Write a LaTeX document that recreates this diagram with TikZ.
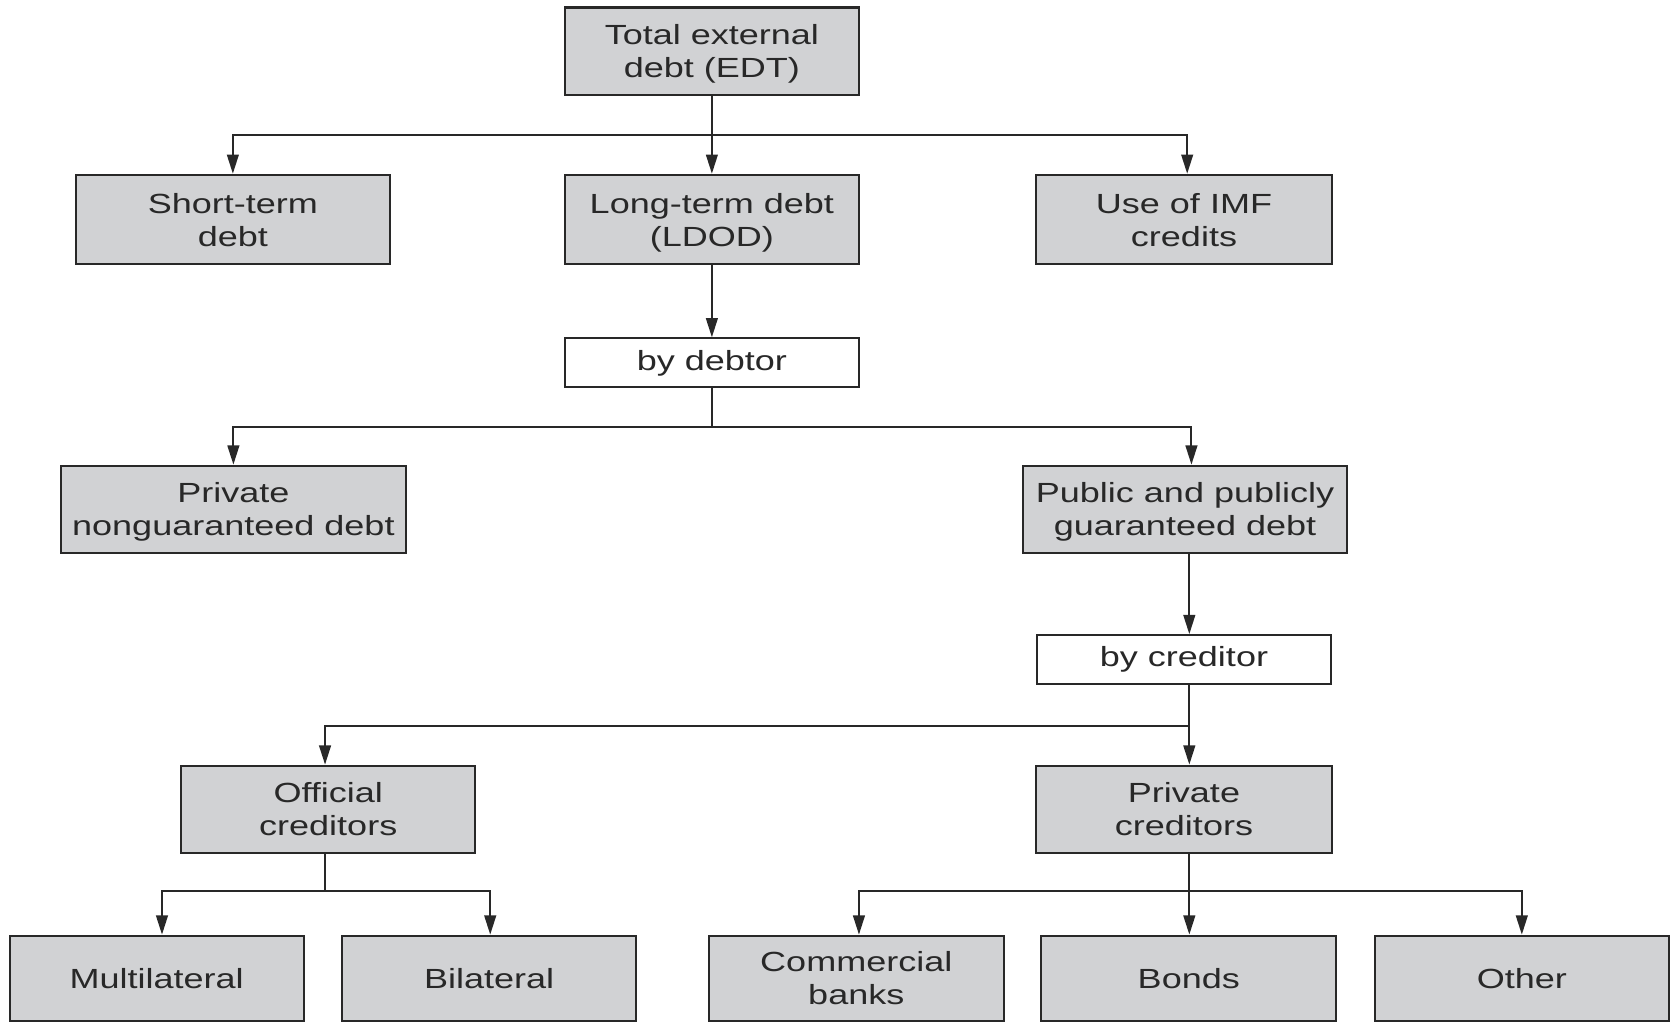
\documentclass[tikz,border=0pt]{standalone}
\usepackage{fontspec}
\setmainfont{Liberation Sans}[FakeStretch=1.3]
\usepackage{xcolor}
\usetikzlibrary{arrows.meta}
\definecolor{boxgray}{RGB}{209,210,212}
\definecolor{linegray}{RGB}{40,40,40}

\begin{document}
\begin{tikzpicture}[x=0.5pt, y=-0.5pt, >={Triangle[length=9pt,width=5.5pt]},
  every node/.style={font=\fontsize{13}{15.5}\selectfont, text=linegray},
  link/.style={draw=linegray, line width=0.9pt},
  catbox/.style={draw=linegray, fill=boxgray, line width=1pt, align=center, inner sep=0pt, minimum height=41pt, text depth=-1.5pt},
  bybox/.style={draw=linegray, fill=white, line width=1pt, align=center, inner sep=0pt, minimum height=23pt, minimum width=138pt}]
  \useasboundingbox (0,0) rectangle (1568,960);
  \node[catbox, minimum width=138pt] (total) at (668,48) {Total external\\debt (EDT)};
  \node[catbox, minimum width=147.5pt, minimum height=42pt] (short) at (218.5,206) {Short-term\\debt};
  \node[catbox, minimum width=138pt, minimum height=42pt] (long) at (668,206) {Long-term debt\\(LDOD)};
  \node[catbox, minimum width=138.5pt, minimum height=42pt] (imf) at (1111,206) {Use of IMF\\credits};
  \node[bybox] (debtor) at (668,340.5) {by debtor};
  \node[catbox, minimum width=162pt] (pnd) at (219,478) {Private\\nonguaranteed debt};
  \node[catbox, minimum width=152pt] (ppg) at (1112,478) {Public and publicly\\guaranteed debt};
  \node[bybox] (creditor) at (1111,619) {by creditor};
  \node[catbox, minimum width=138pt] (official) at (308,759.5) {Official\\creditors};
  \node[catbox, minimum width=138.5pt] (privcred) at (1111,759.5) {Private\\creditors};
  \node[catbox, minimum width=138pt, minimum height=40pt] (multi) at (147,918) {Multilateral};
  \node[catbox, minimum width=138pt, minimum height=40pt] (bilat) at (459,918) {Bilateral};
  \node[catbox, minimum width=138.5pt, minimum height=40pt] (comm) at (803.5,918) {Commercial\\banks};
  \node[catbox, minimum width=138.5pt, minimum height=40pt] (bonds) at (1115.5,918) {Bonds};
  \node[catbox, minimum width=138pt, minimum height=40pt] (other) at (1428,918) {Other};
  % junctions
  \coordinate (j1) at (668,127);
  \coordinate (j2) at (668,401);
  \coordinate (j3) at (1116,681);
  \coordinate (j4) at (305,836);
  \coordinate (j5) at (1116,836);
  \draw[link, ->] (total) -- (long);
  \draw[link, ->] (j1) -| (short.north);
  \draw[link, ->] (j1) -| (imf.north -| 1114,0);
  \draw[link, ->] (long) -- (debtor);
  \draw[link] (debtor) -- (j2);
  \draw[link, ->] (j2) -| (pnd.north);
  \draw[link, ->] (j2) -| (ppg.north -| 1118,0);
  \draw[link, ->] (ppg.south -| j3) -- (creditor.north -| j3);
  \draw[link, ->] (creditor.south -| j3) -- (privcred.north -| j3);
  \draw[link, ->] (j3) -| (official.north -| j4);
  \draw[link] (official.south -| j4) -- (j4);
  \draw[link, ->] (j4) -| (multi.north -| 152,0);
  \draw[link, ->] (j4) -| (bilat.north -| 460,0);
  \draw[link, ->] (privcred.south -| j5) -- (bonds.north -| j5);
  \draw[link, ->] (j5) -| (comm.north -| 806,0);
  \draw[link, ->] (j5) -| (other.north);
\end{tikzpicture}
\end{document}
